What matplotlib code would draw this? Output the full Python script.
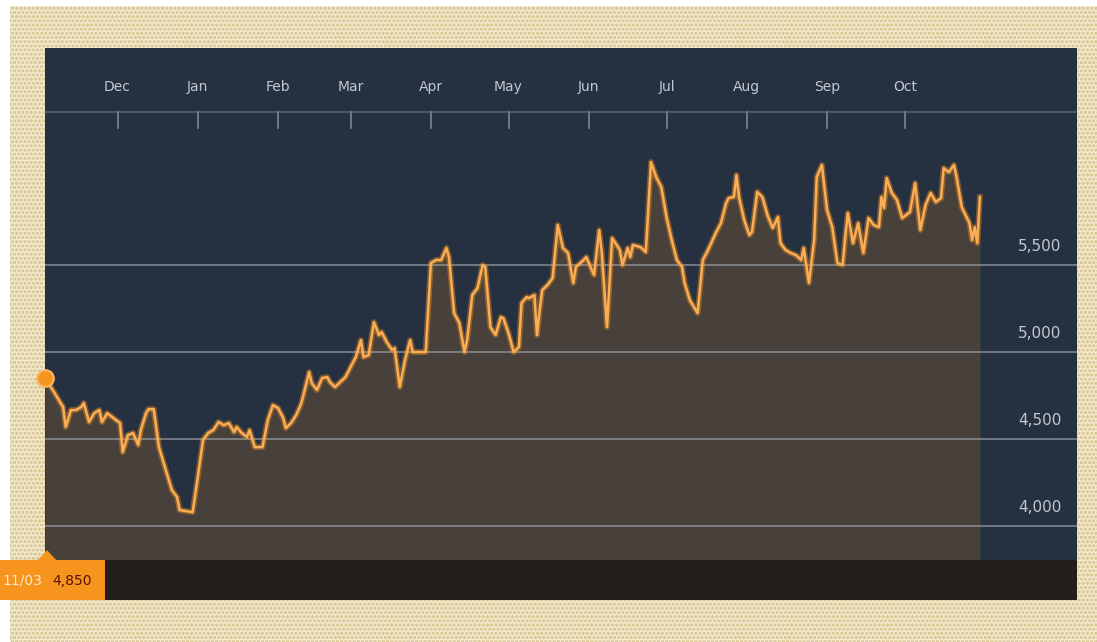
import pandas as pd
import matplotlib
matplotlib.use("Agg")
import matplotlib.pyplot as plt
import matplotlib.transforms as mtransforms
from matplotlib.patches import Rectangle, Polygon

plt.rcParams['font.family'] = ['Liberation Sans Narrow', 'DejaVu Sans']

## values (daily close, approx)
dates = [
    "2013-11-03", "2013-11-06", "2013-11-10", "2013-11-11", "2013-11-13", "2013-11-15",
    "2013-11-17", "2013-11-18", "2013-11-20", "2013-11-22", "2013-11-24", "2013-11-25",
    "2013-11-27", "2013-11-29", "2013-12-02", "2013-12-03", "2013-12-05", "2013-12-07",
    "2013-12-09", "2013-12-10", "2013-12-12", "2013-12-13", "2013-12-15", "2013-12-17",
    "2013-12-20", "2013-12-22", "2013-12-24", "2013-12-25", "2013-12-30", "2014-01-01",
    "2014-01-03", "2014-01-05", "2014-01-07", "2014-01-09", "2014-01-11", "2014-01-13",
    "2014-01-15", "2014-01-16", "2014-01-18", "2014-01-20", "2014-01-21", "2014-01-23",
    "2014-01-26", "2014-01-28", "2014-01-30", "2014-02-01", "2014-02-03", "2014-02-04",
    "2014-02-06", "2014-02-08", "2014-02-10", "2014-02-13", "2014-02-14", "2014-02-16",
    "2014-02-18", "2014-02-20", "2014-02-21", "2014-02-23", "2014-02-25", "2014-02-27",
    "2014-03-01", "2014-03-03", "2014-03-05", "2014-03-06", "2014-03-08", "2014-03-10",
    "2014-03-12", "2014-03-13", "2014-03-15", "2014-03-17", "2014-03-18", "2014-03-20",
    "2014-03-22", "2014-03-24", "2014-03-25", "2014-03-28", "2014-03-30", "2014-04-01",
    "2014-04-03", "2014-04-05", "2014-04-07", "2014-04-08", "2014-04-10", "2014-04-12",
    "2014-04-14", "2014-04-15", "2014-04-17", "2014-04-19", "2014-04-21", "2014-04-22",
    "2014-04-24", "2014-04-26", "2014-04-28", "2014-04-29", "2014-05-01", "2014-05-03",
    "2014-05-05", "2014-05-06", "2014-05-08", "2014-05-09", "2014-05-11", "2014-05-12",
    "2014-05-13", "2014-05-14", "2014-05-16", "2014-05-18", "2014-05-20", "2014-05-22",
    "2014-05-24", "2014-05-26", "2014-05-27", "2014-05-30", "2014-05-31", "2014-06-03",
    "2014-06-05", "2014-06-06", "2014-06-08", "2014-06-10", "2014-06-13", "2014-06-14",
    "2014-06-16", "2014-06-17", "2014-06-18", "2014-06-21", "2014-06-23", "2014-06-25",
    "2014-06-27", "2014-06-29", "2014-07-01", "2014-07-03", "2014-07-05", "2014-07-07",
    "2014-07-08", "2014-07-10", "2014-07-13", "2014-07-15", "2014-07-17", "2014-07-20",
    "2014-07-22", "2014-07-24", "2014-07-25", "2014-07-27", "2014-07-28", "2014-07-29",
    "2014-07-31", "2014-08-02", "2014-08-03", "2014-08-05", "2014-08-07", "2014-08-09",
    "2014-08-11", "2014-08-13", "2014-08-14", "2014-08-16", "2014-08-18", "2014-08-20",
    "2014-08-22", "2014-08-23", "2014-08-25", "2014-08-27", "2014-08-28", "2014-08-30",
    "2014-09-01", "2014-09-03", "2014-09-05", "2014-09-07", "2014-09-08", "2014-09-09",
    "2014-09-11", "2014-09-13", "2014-09-15", "2014-09-17", "2014-09-19", "2014-09-21",
    "2014-09-22", "2014-09-23", "2014-09-24", "2014-09-26", "2014-09-28", "2014-09-30",
    "2014-10-03", "2014-10-05", "2014-10-07", "2014-10-09", "2014-10-11", "2014-10-13",
    "2014-10-15", "2014-10-16", "2014-10-18", "2014-10-20", "2014-10-21", "2014-10-23",
    "2014-10-26", "2014-10-27", "2014-10-28", "2014-10-29", "2014-10-30",
]
values = [
    4850, 4782, 4684, 4569, 4667, 4667,
    4684, 4707, 4598, 4649, 4667, 4598,
    4649, 4626, 4592, 4425, 4523, 4535,
    4466, 4552, 4649, 4672, 4672, 4454,
    4305, 4207, 4167, 4092, 4080, 4282,
    4494, 4535, 4552, 4598, 4580, 4592,
    4540, 4569, 4535, 4512, 4552, 4454,
    4454, 4609, 4695, 4678, 4621, 4563,
    4592, 4638, 4707, 4885, 4822, 4782,
    4851, 4856, 4828, 4799, 4828, 4856,
    4914, 4971, 5069, 4971, 4983, 5172,
    5098, 5115, 5057, 5012, 5023, 4799,
    4954, 5069, 5000, 5000, 5000, 5511,
    5529, 5529, 5598, 5546, 5224, 5167,
    5000, 5069, 5328, 5368, 5500, 5489,
    5144, 5098, 5201, 5195, 5109, 5000,
    5029, 5282, 5316, 5310, 5328, 5098,
    5241, 5356, 5385, 5425, 5730, 5598,
    5569, 5397, 5489, 5529, 5546, 5443,
    5701, 5575, 5144, 5655, 5586, 5500,
    5598, 5546, 5615, 5603, 5575, 6092,
    6006, 5948, 5776, 5644, 5529, 5489,
    5397, 5299, 5224, 5529, 5586, 5684,
    5741, 5856, 5885, 5891, 6017, 5891,
    5759, 5672, 5690, 5920, 5891, 5787,
    5713, 5776, 5626, 5586, 5569, 5557,
    5529, 5598, 5397, 5644, 6006, 6075,
    5816, 5718, 5511, 5500, 5661, 5799,
    5626, 5741, 5569, 5770, 5730, 5718,
    5891, 5828, 6000, 5914, 5874, 5770,
    5805, 5971, 5701, 5845, 5914, 5862,
    5885, 6057, 6034, 6075, 6006, 5833,
    5741, 5644, 5718, 5626, 5891,
]
month_starts = ["2013-12-01", "2014-01-01", "2014-02-01", "2014-03-01", "2014-04-01",
                "2014-05-01", "2014-06-01", "2014-07-01", "2014-08-01", "2014-09-01",
                "2014-10-01"]
month_labels = ["Dec", "Jan", "Feb", "Mar", "Apr", "May", "Jun", "Jul", "Aug", "Sep", "Oct"]
y_ticks = [4000, 4500, 5000, 5500]
last_label = "11/03"
last_value = "4,850"

NAVY = "#253040"
ORANGE = "#f7941d"
GREY = "#c3c8cf"

x = pd.to_datetime(dates)
months = pd.to_datetime(month_starts)

fig = plt.figure(figsize=(10.97, 6.42), dpi=100)
fig.patch.set_facecolor("white")

# dotted beige backdrop
W, H = 1097, 642
def fx(px):
    return px / W
def fy(py):
    return 1 - py / H

plt.rcParams['hatch.linewidth'] = 1.5
bg = Rectangle((fx(10), 0), 1 - fx(10), fy(6), transform=fig.transFigure,
               facecolor="#f2e9cc", edgecolor="#d3bf8c", hatch="....", lw=0, zorder=-10)
fig.patches.append(bg)

ax = fig.add_axes([fx(45), fy(560), fx(1077) - fx(45), fy(48) - fy(560)])
ax.set_facecolor(NAVY)
for s in ax.spines.values():
    s.set_visible(False)

ymin, ymax = 3805, 6747
ax.set_ylim(ymin, ymax)
ax.set_xlim(x[0], x[0] + pd.Timedelta(days=398.5))

ax.fill_between(x, values, ymin, color=ORANGE, alpha=0.17, lw=0, zorder=1)
for v in y_ticks:
    ax.axhline(v, color="#9aa0a8", lw=1.3, alpha=0.7, zorder=2)
ax.plot(x, values, color=ORANGE, lw=4.2, alpha=0.4, zorder=3, solid_joinstyle="round")
ax.plot(x, values, color="#fbae55", lw=1.8, zorder=4, solid_joinstyle="round")
ax.plot([x[0]], [values[0]], "o", ms=12, color=ORANGE, mec="#fbb766", mew=1.5,
        clip_on=False, zorder=5)

ax.set_xticks([])
ax.set_yticks([])

# month axis drawn near the top of the panel
trans = mtransforms.blended_transform_factory(ax.transData, ax.transAxes)
ax.axhline(ymin + (ymax - ymin) * 0.875, color="#4f5965", lw=1.5, zorder=2)
for m, lab in zip(months, month_labels):
    ax.plot([m, m], [0.844, 0.875], transform=trans, color="#7d858f", lw=1.2)
    ax.text(m, 0.924, lab, transform=trans, ha="center", va="center",
            color=GREY, fontsize=10)

# value labels on the right
ytrans = mtransforms.blended_transform_factory(ax.transAxes, ax.transData)
for v in y_ticks:
    ax.annotate(f"{v:,}", xy=(0.964, v), xycoords=ytrans, xytext=(0, 19),
                textcoords="offset pixels", ha="center", va="center",
                color=GREY, fontsize=11)

# bottom bar with last value tag
fig.patches.append(Rectangle((fx(45), fy(600)), fx(1077) - fx(45), fy(560) - fy(600),
                             transform=fig.transFigure, facecolor="#231f1d", lw=0))
fig.patches.append(Rectangle((0, fy(600)), fx(105), fy(560) - fy(600),
                             transform=fig.transFigure, facecolor=ORANGE, lw=0))
fig.patches.append(Polygon([(fx(37), fy(561)), (fx(47), fy(550)), (fx(57), fy(561))],
                           closed=True, transform=fig.transFigure, facecolor=ORANGE, lw=0))
fig.text(fx(22), fy(581), last_label, ha="center", va="center", color="#fde6c8", fontsize=10)
fig.text(fx(72), fy(581), last_value, ha="center", va="center", color="#5b1408", fontsize=10)

fig.savefig("out.png", dpi=100, facecolor=fig.get_facecolor())
